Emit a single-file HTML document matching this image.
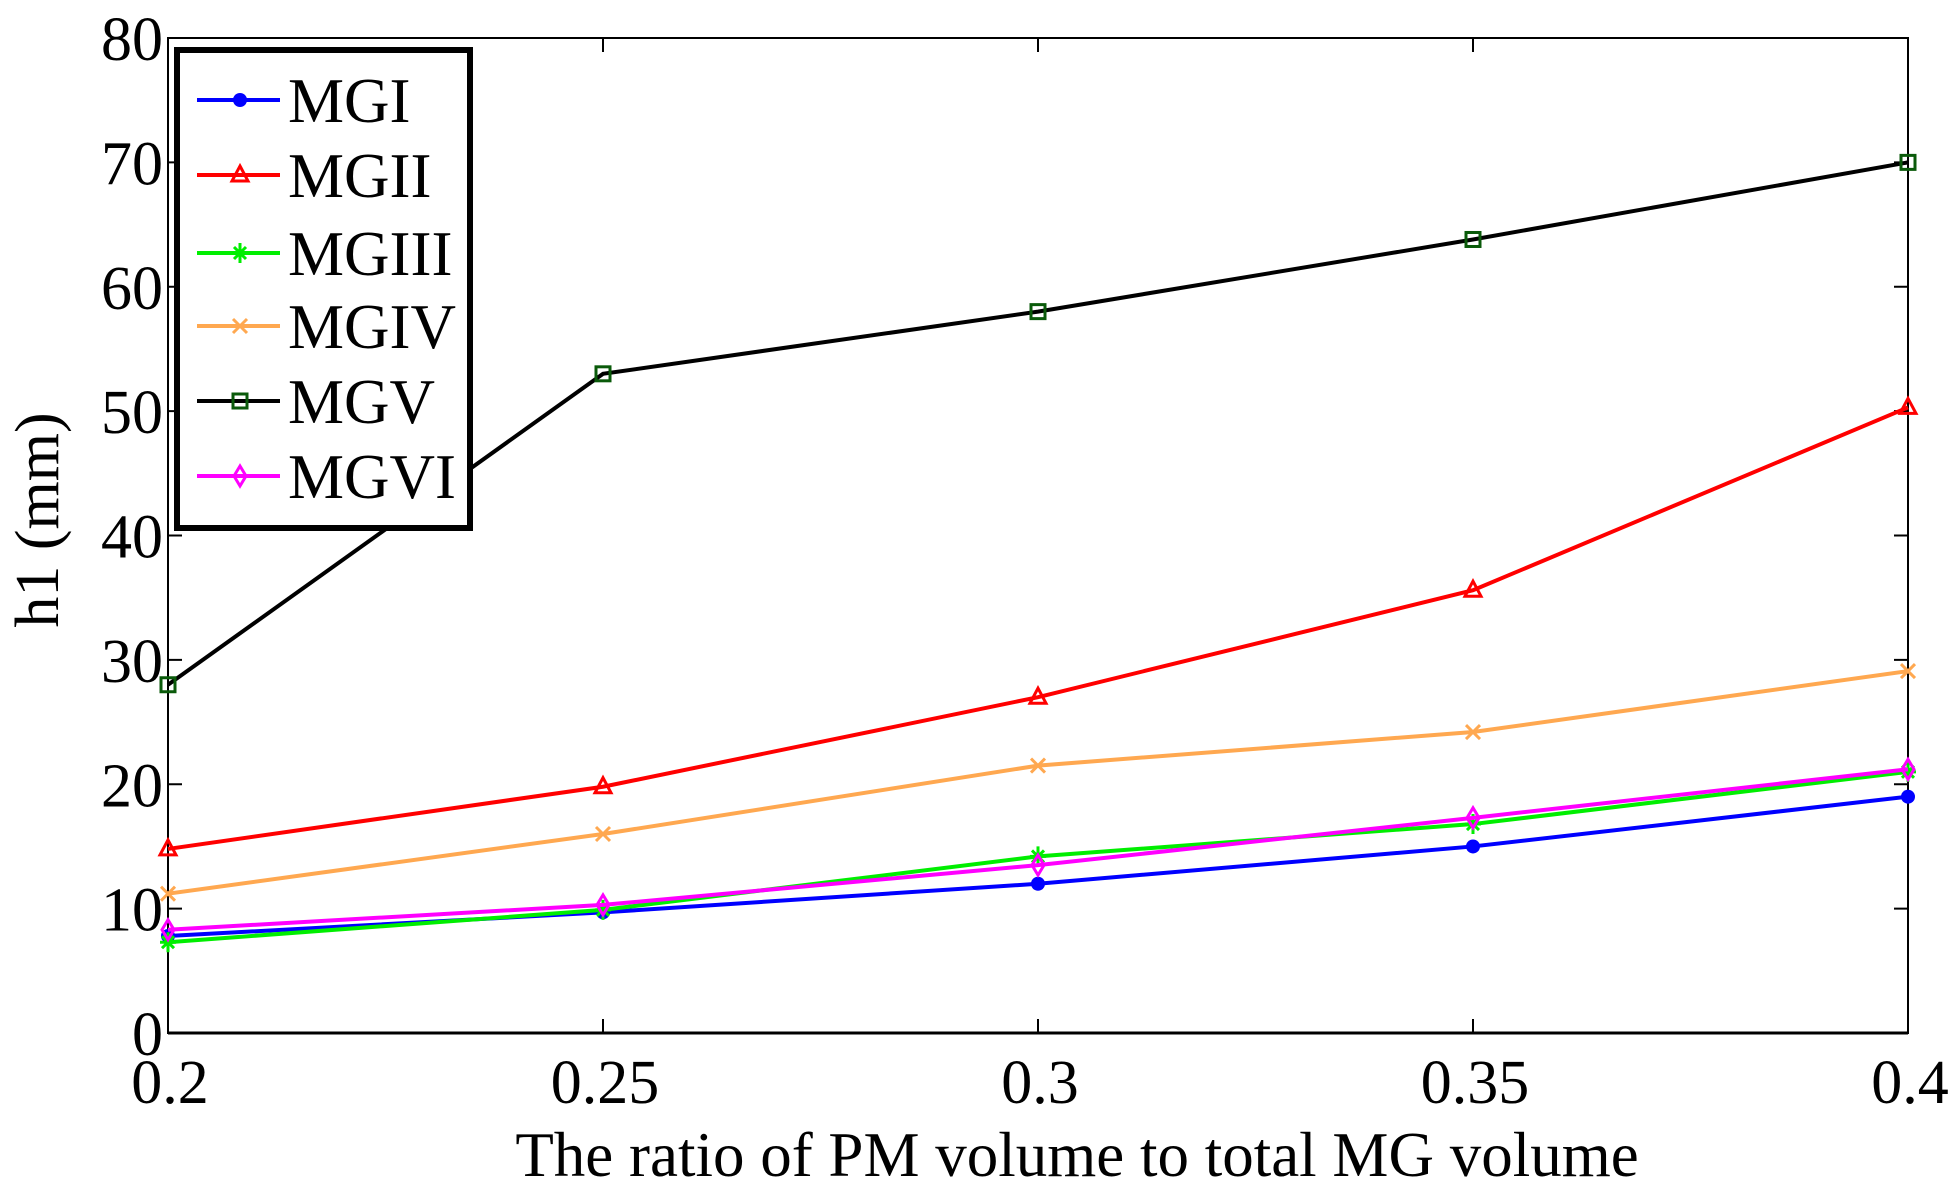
<!DOCTYPE html>
<html><head><meta charset="utf-8"><style>
html,body{margin:0;padding:0;background:#fff}
svg{display:block}
text{font-family:"Liberation Serif",serif;fill:#000}
</style></head><body>
<svg id="chart" width="1955" height="1196" viewBox="0 0 1955 1196" xmlns="http://www.w3.org/2000/svg">
<g id="axes"></g><g id="series"></g><g id="legend"></g>
</svg>
<script>
const xCats = [0.2, 0.25, 0.3, 0.35, 0.4];
const xTickLabels = ["0.2","0.25","0.3","0.35","0.4"];
const yTicks = [0,10,20,30,40,50,60,70,80];
const seriesNames = ["MGI","MGII","MGIII","MGIV","MGV","MGVI"];
const mgI = [7.8, 9.7, 12, 15, 19];
const mgII = [14.8, 19.8, 27, 35.6, 50.3];
const mgIII = [7.3, 9.9, 14.2, 16.8, 21];
const mgIV = [11.2, 16, 21.5, 24.2, 29.1];
const mgV = [28, 53, 58, 63.8, 70];
const mgVI = [8.3, 10.3, 13.5, 17.3, 21.2];

const NS="http://www.w3.org/2000/svg";
const L=168,R=1908,T=38,B=1033;
const xS=v=>L+(v-0.2)/(0.4-0.2)*(R-L);
const yS=v=>B-v/80*(B-T);
function mk(tag,attrs,parent){const e=document.createElementNS(NS,tag);for(const k in attrs)e.setAttribute(k,attrs[k]);parent.appendChild(e);return e;}
const axes=document.getElementById('axes');
const frame=mk('rect',{x:L,y:T,width:R-L,height:B-T,fill:'none',stroke:'#000','stroke-width':2},axes);


mk('line',{x1:L,y1:B,x2:R,y2:B,stroke:'#000','stroke-width':3},axes);
yTicks.forEach(v=>{const y=yS(v);
 mk('line',{x1:L,y1:y,x2:L+14,y2:y,stroke:'#000','stroke-width':2},axes);
 mk('line',{x1:R,y1:y,x2:R-14,y2:y,stroke:'#000','stroke-width':2},axes);
 const t=mk('text',{x:163,y:y+22,'text-anchor':'end','font-size':62},axes);t.textContent=v;
 
 
});
xCats.forEach((v,i)=>{const x=xS(v);
 mk('line',{x1:x,y1:B,x2:x,y2:B-14,stroke:'#000','stroke-width':2},axes);
 mk('line',{x1:x,y1:T,x2:x,y2:T+14,stroke:'#000','stroke-width':2},axes);
 const t=mk('text',{x:x+2,y:1103,'text-anchor':'middle','font-size':62},axes);t.textContent=xTickLabels[i];
 
 
});
const xt=mk('text',{x:1077,y:1176,'text-anchor':'middle','font-size':63},axes);xt.textContent='The ratio of PM volume to total MG volume';


const yt=mk('text',{x:0,y:0,'text-anchor':'middle','font-size':62,transform:'translate(58,520) rotate(-90)'},axes);yt.textContent='h1 (mm)';



const colors=['#0000ff','#ff0000','#00ee00','#ffa850','#000000','#ff00ff'];
const data=[mgI,mgII,mgIII,mgIV,mgV,mgVI];
const markers=['dot','tri','star','x','sq','dia'];
function marker(g,type,x,y,c){
 if(type==='dot')mk('circle',{cx:x,cy:y,r:7,fill:c},g);
 else if(type==='tri')mk('path',{d:`M${x},${y-9} L${x+8},${y+6} L${x-8},${y+6}Z`,fill:'none',stroke:c,'stroke-width':3},g);
 else if(type==='star')mk('path',{d:`M${x-8},${y}H${x+8}M${x},${y-10}V${y+10}M${x-6},${y-6}L${x+6},${y+6}M${x-6},${y+6}L${x+6},${y-6}`,stroke:c,'stroke-width':3},g);
 else if(type==='x')mk('path',{d:`M${x-7},${y-7}L${x+7},${y+7}M${x-7},${y+7}L${x+7},${y-7}`,stroke:c,'stroke-width':3},g);
 else if(type==='sq')mk('rect',{x:x-7,y:y-7,width:14,height:14,fill:'none',stroke:c==='#000000'?'#0a5a0a':c,'stroke-width':3},g);
 else if(type==='dia')mk('path',{d:`M${x},${y-10}L${x+6},${y}L${x},${y+10}L${x-6},${y}Z`,fill:'none',stroke:c,'stroke-width':3},g);
}
const sg=document.getElementById('series');
data.forEach((arr,si)=>{
 const g=mk('g',{},sg);
 
 
 const pts=arr.map((v,i)=>xS(xCats[i])+','+yS(v)).join(' ');
 mk('polyline',{points:pts,fill:'none',stroke:colors[si],'stroke-width':4},g);
 arr.forEach((v,i)=>marker(g,markers[si],xS(xCats[i]),yS(v),colors[si]));
});
const lg=document.getElementById('legend');
const lb=mk('rect',{x:177,y:50,width:293,height:478,fill:'#fff',stroke:'#000','stroke-width':6},lg);


const ly=[100,175,253,326,401,476];
seriesNames.forEach((n,i)=>{
 const g=mk('g',{},lg);
 
 
 mk('line',{x1:197,y1:ly[i],x2:280,y2:ly[i],stroke:colors[i],'stroke-width':4},g);
 marker(g,markers[i],240,ly[i],colors[i]);
 const t=mk('text',{x:288,y:ly[i]+22,'font-size':63},g);t.textContent=n;
});
</script>
</body></html>
